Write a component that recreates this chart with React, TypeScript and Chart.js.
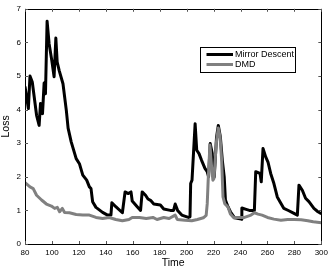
import { useEffect, useRef } from "react";
import { Chart, registerables } from "chart.js";

Chart.register(...registerables);

const seriesNames = ["Mirror Descent", "DMD"];

const mdTime = [
  80, 82.5, 83.7, 85.4, 88.6, 90.5, 91.5, 93, 94.2, 95.2, 96.4, 97.9, 99.9, 101.6, 102.9, 103.9, 105.4, 108.2,
  110.7, 112, 114.3, 118, 120.4, 122.9, 125.8, 127.8, 129, 130.2, 132.7, 137.6, 141.3, 143.8, 144.5, 147.4,
  152.3, 154.3, 156.7, 158.7, 159.6, 163.3, 165.8, 167, 169.5, 171.3, 173.2, 175.6, 180.5, 183, 187.9, 190.3,
  191.5, 193.3, 196.4, 201.3, 202.5, 203, 204, 206.3, 207.5, 209.2, 211.1, 213.6, 215.3, 216.3, 217.5, 219,
  219.7, 220.5, 222.2, 223.5, 225, 226.5, 227.9, 228.8, 230.7, 232.5, 235.6, 240.5, 241, 244.2, 246.6, 250.3,
  251.3, 254.5, 255.4, 256.7, 258.7, 260.4, 262.4, 264.8, 267.3, 269.3, 272.2, 275.9, 279.7, 282.2, 283.4,
  285.9, 288.3, 290.8, 294.5, 297.5, 300,
];
const mdLoss = [
  4.69, 4.03, 5.0, 4.82, 3.83, 3.53, 4.18, 3.88, 4.79, 4.47, 6.63, 5.96, 5.46, 4.98, 6.13, 5.41, 5.16, 4.77,
  3.97, 3.45, 3.04, 2.54, 2.39, 2.05, 1.9, 1.7, 1.65, 1.26, 1.09, 0.94, 0.86, 0.86, 1.23, 1.11,
  0.93, 1.55, 1.5, 1.55, 1.28, 1.11, 1.0, 1.55, 1.45, 1.34, 1.3, 1.19, 1.16, 1.04, 1.0, 1.0,
  1.19, 1.0, 0.86, 0.79, 0.81, 1.8, 1.9, 3.58, 2.79, 2.69, 2.49, 2.25, 2.15, 2.0, 2.99, 2.7,
  2.05, 2.0, 3.18, 3.53, 3.2, 2.49, 2.0, 1.31, 1.11, 0.96, 0.78, 0.74, 1.07, 1.03, 1.0, 1.0,
  2.15, 2.1, 1.85, 2.84, 2.59, 2.44, 2.1, 1.8, 1.4, 1.26, 1.06, 0.99, 0.91, 0.86, 1.75,
  1.6, 1.36, 1.26, 1.06, 0.96, 0.9,
];

const dmdTime = [
  80, 83.7, 86.1, 88.6, 92.3, 95.9, 99.6, 102, 104, 105.7, 107.7, 109.4, 113, 118, 122.9, 127.8, 132.7, 137.6,
  142.5, 147.4, 152.3, 157.2, 159.6, 165, 170, 175, 178, 183, 187, 191.5, 193, 198.8, 203.8, 208, 212.4, 214.5,
  215.3, 216, 217.3, 218.5, 219.5, 220.3, 222, 223.5, 224.8, 226, 227, 228.3, 230.7, 232.5, 235, 238, 243,
  247.8, 250.3, 253, 256, 260, 264.8, 270, 275, 280, 285, 290, 294, 300,
];
const dmdLoss = [
  1.83, 1.7, 1.65, 1.45, 1.31, 1.19, 1.13, 1.06, 1.09, 0.96, 1.06, 0.94, 0.93, 0.88, 0.86, 0.86, 0.79, 0.76,
  0.79, 0.73, 0.69, 0.73, 0.79, 0.79, 0.76, 0.79, 0.73, 0.79, 0.76, 0.86, 0.73, 0.71, 0.69, 0.73, 0.78, 0.85,
  1.2, 1.9, 2.95, 2.3, 1.9, 1.95, 3.0, 3.45, 3.2, 2.49, 1.4, 1.2, 1.1, 0.89, 0.78, 0.79, 0.79,
  0.86, 0.93, 0.89, 0.86, 0.79, 0.74, 0.71, 0.73, 0.73, 0.72, 0.69, 0.66, 0.63,
];

const xTickValues = [80, 100, 120, 140, 160, 180, 200, 220, 240, 260, 280, 300];
const yTickValues = [0, 1, 2, 3, 4, 5, 6, 7];

const FONT = "'Liberation Sans', Arial, Helvetica, sans-serif";
const COLORS = ["#000000", "#808080"];

const framePlugin = {
  id: "matlabFrame",
  afterDatasetsDraw(chart: any) {
    const { ctx, chartArea } = chart;
    const { left, right, top, bottom } = chartArea;
    const xs = chart.scales.x;
    const ys = chart.scales.y;
    ctx.save();
    ctx.strokeStyle = "#000";
    ctx.lineWidth = 1;
    ctx.beginPath();
    ctx.rect(Math.round(left) + 0.5, Math.round(top) + 0.5, Math.round(right - left), Math.round(bottom - top));
    ctx.stroke();
    ctx.strokeStyle = "#555";
    const L = 3;
    ctx.beginPath();
    xs.ticks.forEach((t: any) => {
      const px = Math.round(xs.getPixelForValue(t.value)) + 0.5;
      ctx.moveTo(px, bottom);
      ctx.lineTo(px, bottom - L);
      ctx.moveTo(px, top);
      ctx.lineTo(px, top + L);
    });
    ys.ticks.forEach((t: any) => {
      const py = Math.round(ys.getPixelForValue(t.value)) + 0.5;
      ctx.moveTo(left, py);
      ctx.lineTo(left + L, py);
      ctx.moveTo(right, py);
      ctx.lineTo(right - L, py);
    });
    ctx.stroke();
    ctx.restore();
  },
  afterDraw(chart: any) {
    const { ctx, chartArea } = chart;
    const { left, right, top, bottom } = chartArea;
    const w = right - left;
    const h = bottom - top;
    const bx = Math.round(left + w * 0.5895) + 0.5;
    const by = Math.round(top + h * 0.161) + 0.5;
    const bw = 95;
    const bh = 25;
    ctx.save();
    ctx.fillStyle = "#fff";
    ctx.fillRect(bx, by, bw, bh);
    ctx.strokeStyle = "#000";
    ctx.lineWidth = 1;
    ctx.strokeRect(bx, by, bw, bh);
    ctx.font = `9px ${FONT}`;
    ctx.textBaseline = "middle";
    ctx.textAlign = "left";
    chart.data.datasets.forEach((ds: any, i: number) => {
      const yy = by + 7 + i * 10;
      ctx.strokeStyle = ds.borderColor;
      ctx.lineWidth = 3;
      ctx.beginPath();
      ctx.moveTo(bx + 6, yy);
      ctx.lineTo(bx + 32.5, yy);
      ctx.stroke();
      ctx.fillStyle = "#000";
      ctx.fillText(ds.label, bx + 34.5, yy + 0.5);
    });
    ctx.restore();
  },
};

export default function App() {
  const ref = useRef<HTMLCanvasElement | null>(null);

  useEffect(() => {
    document.body.style.margin = "0";
    if (!ref.current) return;
    const chart = new Chart(ref.current, {
      type: "line",
      data: {
        datasets: [
          {
            label: seriesNames[0],
            data: mdTime.map((t, i) => ({ x: t, y: mdLoss[i] })),
            borderColor: COLORS[0],
            borderWidth: 3,
            pointRadius: 0,
            tension: 0,
            borderJoinStyle: "round",
            order: 1,
          },
          {
            label: seriesNames[1],
            data: dmdTime.map((t, i) => ({ x: t, y: dmdLoss[i] })),
            borderColor: COLORS[1],
            borderWidth: 3,
            pointRadius: 0,
            tension: 0,
            borderJoinStyle: "round",
            order: 0,
          },
        ],
      },
      options: {
        responsive: false,
        animation: false,
        events: [],
        layout: { padding: { top: 8, right: 8, left: 0, bottom: 0 } },
        plugins: {
          legend: { display: false },
          tooltip: { enabled: false },
        },
        scales: {
          x: {
            type: "linear",
            min: 80,
            max: 300,
            afterBuildTicks: (s: any) => {
              s.ticks = xTickValues.map((v) => ({ value: v }));
            },
            afterFit: (s: any) => {
              s.height = 26;
            },
            grid: { display: false, drawTicks: false },
            border: { display: false },
            ticks: {
              padding: 4,
              color: "#000",
              font: { family: FONT, size: 8 },
              maxRotation: 0,
              autoSkip: false,
            },
            title: {
              display: true,
              text: "Time",
              color: "#000",
              font: { family: FONT, size: 10.5 },
              padding: { top: 0, bottom: 1 },
            },
          },
          y: {
            type: "linear",
            min: 0,
            max: 7,
            afterBuildTicks: (s: any) => {
              s.ticks = yTickValues.map((v) => ({ value: v }));
            },
            afterFit: (s: any) => {
              s.width = 25;
            },
            grid: { display: false, drawTicks: false },
            border: { display: false },
            ticks: {
              padding: 4,
              color: "#000",
              font: { family: FONT, size: 8 },
              autoSkip: false,
            },
            title: {
              display: true,
              text: "Loss",
              color: "#000",
              font: { family: FONT, size: 10.5 },
              padding: { top: 0, bottom: 0 },
            },
          },
        },
      },
      plugins: [framePlugin],
    });
    return () => chart.destroy();
  }, []);

  return (
    <div style={{ width: 332, height: 270, background: "#fff" }}>
      <canvas ref={ref} width={332} height={270} style={{ display: "block" }} />
    </div>
  );
}
